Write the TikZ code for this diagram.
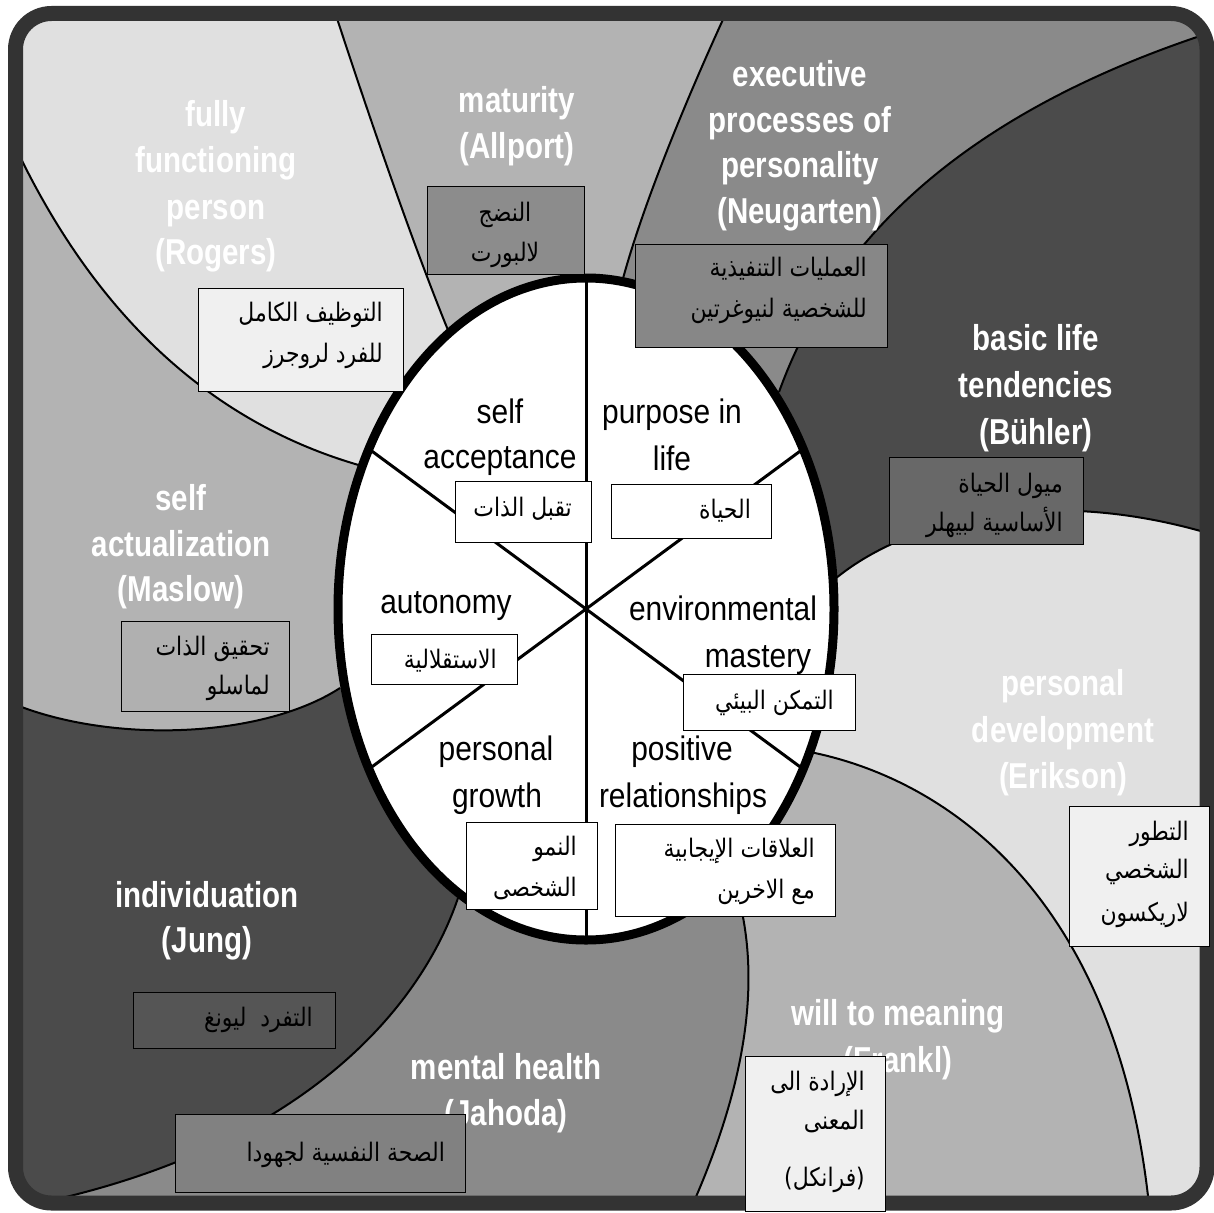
\documentclass[tikz,border=0pt]{standalone}
\usepackage{fontspec}
\setmainfont{Liberation Sans}
\newfontfamily\wlabfont[FakeStretch=0.82]{Liberation Sans Bold}
\newfontfamily\ilabfont[FakeStretch=0.88]{Liberation Sans}
\newfontfamily\arabicfont[Script=Arabic,FakeStretch=0.86]{DejaVu Sans}
\TeXXeTstate=1
\definecolor{cLight}{HTML}{E0E0E0}
\definecolor{cMidL}{HTML}{B3B3B3}
\definecolor{cMid}{HTML}{8A8A8A}
\definecolor{cDark}{HTML}{4B4B4B}
\definecolor{cFrame}{HTML}{333333}
\definecolor{bLight}{HTML}{F0F0F0}
\definecolor{bMat}{HTML}{8C8C8C}
\definecolor{bExe}{HTML}{878787}
\definecolor{bBuh}{HTML}{686868}
\definecolor{bJung}{HTML}{555555}
\definecolor{bJah}{HTML}{818181}
\definecolor{bMas}{HTML}{B0B0B0}
\tikzset{
  wlab/.style={text=white, font=\wlabfont\fontsize{36}{44}\selectfont, anchor=base, inner sep=0pt},
  ilab/.style={text=black, font=\ilabfont\fontsize{34}{44}\selectfont, anchor=base, inner sep=0pt},
  abox/.style={draw=black, line width=1.3pt, anchor=north west, inner sep=0pt},
  atext/.style={text=black, font=\arabicfont\fontsize{25.5}{30}\selectfont, anchor=base east, inner sep=0pt},
  bnd/.style={draw=black, line width=2pt},
}
\begin{document}
\begin{tikzpicture}[x=1pt,y=-1pt]
\useasboundingbox (0,0) rectangle (1214,1212);
% ---------- background regions ----------
\begin{scope}
\clip[rounded corners=28pt] (22,20) rectangle (1201,1196);
% Rogers
\fill[cLight] (586,609) -- (362,466) .. controls (200,420) and (80,300) .. (0,113) -- (-20,66) -- (-20,-20) -- (331,-20) -- (331,0) .. controls (370,120) and (415,250) .. (450,335) -- cycle;
% Allport
\fill[cMidL] (586,609) -- (450,335) .. controls (415,250) and (370,120) .. (331,0) -- (331,-20) -- (732,-20) -- (732,0) .. controls (690,90) and (640,210) .. (620,290) -- cycle;
% Neugarten
\fill[cMid] (586,609) -- (620,290) .. controls (640,210) and (690,90) .. (732,0) -- (732,-20) -- (1260,-20) -- (1260,8) -- (1200,36) .. controls (950,120) and (830,250) .. (779,392) -- cycle;
% Buhler
\fill[cDark] (586,609) -- (779,392) .. controls (830,250) and (950,120) .. (1200,36) -- (1260,8) -- (1260,545) -- (1230,540) .. controls (1050,480) and (900,520) .. (828,585) -- cycle;
% Erikson
\fill[cLight] (586,609) -- (828,585) .. controls (900,520) and (1050,480) .. (1230,540) -- (1260,545) -- (1260,1260) -- (1152,1260) -- (1150,1215) .. controls (1120,900) and (950,780) .. (810,752) -- cycle;
% Frankl
\fill[cMidL] (586,609) -- (810,752) .. controls (950,780) and (1120,900) .. (1150,1215) -- (1152,1260) -- (680,1260) -- (688,1215) .. controls (740,1100) and (760,1000) .. (742,912) -- cycle;
% Jahoda
\fill[cMid] (586,609) -- (742,912) .. controls (760,1000) and (740,1100) .. (688,1215) -- (680,1260) -- (-20,1260) -- (-20,1215) -- (30,1205) .. controls (300,1150) and (420,1010) .. (458,898) -- cycle;
% Jung
\fill[cDark] (586,609) -- (458,898) .. controls (420,1010) and (300,1150) .. (30,1205) -- (-20,1215) -- (-20,690) -- (0,698) .. controls (100,745) and (260,740) .. (340,688) -- cycle;
% Maslow
\fill[cMidL] (586,609) -- (340,688) .. controls (260,740) and (100,745) .. (0,698) -- (-20,690) -- (-20,66) -- (0,113) .. controls (80,300) and (200,420) .. (362,466) -- cycle;
% boundaries
\draw[bnd] (450,335) .. controls (415,250) and (370,120) .. (331,0);
\draw[bnd] (620,290) .. controls (640,210) and (690,90) .. (732,0);
\draw[bnd] (779,392) .. controls (830,250) and (950,120) .. (1200,36) -- (1260,8);
\draw[bnd] (828,585) .. controls (900,520) and (1050,480) .. (1230,540) -- (1260,545);
\draw[bnd] (810,752) .. controls (950,780) and (1120,900) .. (1150,1215);
\draw[bnd] (742,912) .. controls (760,1000) and (740,1100) .. (688,1215);
\draw[bnd] (458,898) .. controls (420,1010) and (300,1150) .. (30,1205) -- (-20,1215);
\draw[bnd] (340,688) .. controls (260,740) and (100,745) .. (0,698);
\draw[bnd] (362,466) .. controls (200,420) and (80,300) .. (0,113);
\end{scope}
% ---------- central ellipse ----------
\coordinate (O) at (586,609);
\coordinate (eT) at (586,278);
\coordinate (eB) at (586,940);
\coordinate (eUL) at (369,449);
\coordinate (eLR) at (803,769);
\coordinate (eUR) at (803,449);
\coordinate (eLL) at (369,769);
\fill[white] (O) ellipse [x radius=248pt, y radius=331pt];
\draw[line width=3pt] (eT) -- (eB);
\draw[line width=3pt] (eUL) -- (eLR);
\draw[line width=3pt] (eUR) -- (eLL);
\draw[line width=9pt] (O) ellipse [x radius=248pt, y radius=331pt];
% ---------- frame ----------
\draw[line width=15pt, cFrame, rounded corners=36pt] (15.5,13.5) rectangle (1207,1203);
% ---------- white labels ----------
\node[wlab] (r1) at (216,126) {fully};
\node[wlab] (r2) at (216,172) {functioning};
\node[wlab] (r3) at (216,219) {person};
\node[wlab] (r4) at (216,264) {(Rogers)};
\node[wlab] (m1) at (517,113) {maturity};
\node[wlab] (m2) at (517,158) {(Allport)};
\node[wlab] (n1) at (800,87) {executive};
\node[wlab] (n2) at (800,132) {processes of};
\node[wlab] (n3) at (800,177) {personality};
\node[wlab] (n4) at (800,223) {(Neugarten)};
\node[wlab] (u1) at (1036,350) {basic life};
\node[wlab] (u2) at (1036,397) {tendencies};
\node[wlab] (u3) at (1036,444) {(Bühler)};
\node[wlab] (s1) at (181,510) {self};
\node[wlab] (s2) at (181,556) {actualization};
\node[wlab] (s3) at (181,601) {(Maslow)};
\node[wlab] (k1) at (1063,695) {personal};
\node[wlab] (k2) at (1063,742) {development};
\node[wlab] (k3) at (1063,788) {(Erikson)};
\node[wlab] (f1) at (898,1025) {will to meaning};
\node[wlab] (f2) at (898,1072) {(Frankl)};
\node[wlab] (h1) at (506,1079) {mental health};
\node[wlab] (h2) at (506,1125) {(Jahoda)};
\node[wlab] (j1) at (207,907) {individuation};
\node[wlab] (j2) at (207,952) {(Jung)};
% ---------- inner labels ----------
\node[ilab] (i1) at (500,423) {self};
\node[ilab] (i2) at (500,468) {acceptance};
\node[ilab] (i3) at (672,423) {purpose in};
\node[ilab] (i4) at (672,470) {life};
\node[ilab] (i5) at (446,613) {autonomy};
\node[ilab] (i6) at (723,620) {environmental};
\node[ilab] (i7) at (758,667) {mastery};
\node[ilab] (i8) at (496,760) {personal};
\node[ilab] (i9) at (497,807) {growth};
\node[ilab] (i10) at (682,760) {positive};
\node[ilab] (i11) at (683,807) {relationships};
% ---------- Arabic boxes ----------
\node[abox, fill=bLight, minimum width=205pt, minimum height=103pt] (bRog) at (198,288) {};
\node[abox, fill=bMat, minimum width=157pt, minimum height=88pt] (bMat) at (427,186) {};
\node[abox, fill=bExe, minimum width=252pt, minimum height=103pt] (bExe) at (635,244) {};
\node[abox, fill=bBuh, minimum width=194pt, minimum height=87pt] (bBuh) at (889,457) {};
\node[abox, fill=white, minimum width=136pt, minimum height=61pt] (bSA) at (455,481) {};
\node[abox, fill=white, minimum width=160pt, minimum height=54pt] (bPL) at (611,484) {};
\node[abox, fill=white, minimum width=146pt, minimum height=50pt] (bAu) at (371,634) {};
\node[abox, fill=white, minimum width=172pt, minimum height=56pt] (bEM) at (683,674) {};
\node[abox, fill=white, minimum width=131pt, minimum height=87pt] (bPG) at (466,822) {};
\node[abox, fill=white, minimum width=220pt, minimum height=92pt] (bPR) at (615,824) {};
\node[abox, fill=bLight, minimum width=140pt, minimum height=140pt] (bEri) at (1069,806) {};
\node[abox, fill=bLight, minimum width=140pt, minimum height=155pt] (bFra) at (745,1056) {};
\node[abox, fill=bJung, minimum width=202pt, minimum height=56pt] (bJung) at (133,992) {};
\node[abox, fill=bJah, minimum width=290pt, minimum height=78pt] (bJah) at (175,1114) {};
\node[abox, fill=bMas, minimum width=168pt, minimum height=90pt] (bMas) at (121,621) {};
% ---------- Arabic texts ----------
\node[atext] (a1a) at (383,321) {\beginR التوظيف الكامل\endR};
\node[atext] (a1b) at (383,362) {\beginR للفرد لروجرز\endR};
\node[atext, anchor=base] (a2a) at (505,221) {\beginR النضج\endR};
\node[atext, anchor=base] (a2b) at (505,261) {\beginR لالبورت\endR};
\node[atext] (a3a) at (867,276) {\beginR العمليات التنفيذية\endR};
\node[atext] (a3b) at (867,317) {\beginR للشخصية لنيوغرتين\endR};
\node[atext] (a4a) at (1063,492) {\beginR ميول الحياة\endR};
\node[atext] (a4b) at (1063,531) {\beginR الأساسية لبيهلر\endR};
\node[atext] (a5) at (572,516) {\beginR تقبل الذات\endR};
\node[atext] (a6) at (751,518) {\beginR الحياة\endR};
\node[atext] (a7) at (497,668) {\beginR الاستقلالية\endR};
\node[atext] (a8) at (834,709) {\beginR التمكن البيئي\endR};
\node[atext] (a9a) at (577,855) {\beginR النمو\endR};
\node[atext] (a9b) at (577,896) {\beginR الشخصى\endR};
\node[atext] (a10a) at (815,857) {\beginR العلاقات الإيجابية\endR};
\node[atext] (a10b) at (815,898) {\beginR مع الاخرين\endR};
\node[atext] (a11a) at (1189,840) {\beginR التطور\endR};
\node[atext] (a11b) at (1189,878) {\beginR الشخصي\endR};
\node[atext] (a11c) at (1189,921) {\beginR لاريكسون\endR};
\node[atext] (a12a) at (865,1090) {\beginR الإرادة الى\endR};
\node[atext] (a12b) at (865,1129) {\beginR المعنى\endR};
\node[atext] (a12c) at (865,1186) {)\beginR فرانكل\endR(};
\node[atext] (a13) at (313,1026) {\beginR التفرد\ \ ليونغ\endR};
\node[atext] (a14) at (445,1161) {\beginR الصحة النفسية لجهودا\endR};
\node[atext] (a15a) at (270,655) {\beginR تحقيق الذات\endR};
\node[atext] (a15b) at (270,694) {\beginR لماسلو\endR};
\end{tikzpicture}
\end{document}
